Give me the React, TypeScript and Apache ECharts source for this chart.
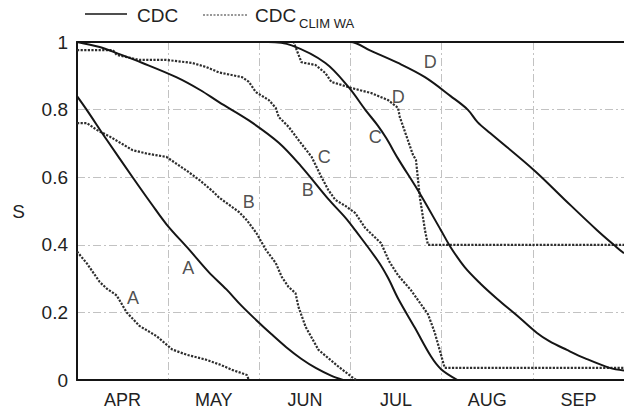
import React, { useEffect, useRef } from "react";
import * as echarts from "echarts";

const FONT = "Liberation Sans, Arial, Helvetica, sans-serif";

const MONTHS = ["APR", "MAY", "JUN", "JUL", "AUG", "SEP"];

// x = days since 1 April, y = S
const solidA: [number, number][] = [
  [0, 0.84], [3.2, 0.8], [10, 0.71], [18.6, 0.6], [25, 0.52], [30, 0.46], [37.6, 0.385],
  [44, 0.32], [50, 0.268], [55, 0.22], [60, 0.177], [65, 0.136], [70, 0.097], [75, 0.063],
  [80, 0.035], [85, 0.013], [89, 0],
];
const dottedA: [number, number][] = [
  [0, 0.38], [3.3, 0.345], [7.6, 0.29], [10, 0.27], [13.3, 0.25], [16.6, 0.2], [20.9, 0.16],
  [26.6, 0.13], [31.9, 0.09], [36.6, 0.075], [43.2, 0.06], [48, 0.045], [51.9, 0.03],
  [56.8, 0.015], [57.5, 0],
];
const solidB: [number, number][] = [
  [0, 1], [7.6, 0.985], [13.3, 0.967], [21.9, 0.938], [33.2, 0.896], [41.2, 0.858], [47.5, 0.822],
  [57.5, 0.768], [67.5, 0.702], [75, 0.632], [84.1, 0.535], [89.7, 0.481], [93, 0.444],
  [100.7, 0.352], [104, 0.303], [107.6, 0.238], [113, 0.155], [118.4, 0.07], [121.8, 0.032],
  [127.3, 0],
];
const dottedB: [number, number][] = [
  [0, 0.76], [3.3, 0.76], [6.6, 0.74], [11, 0.72], [18.6, 0.68], [23.3, 0.67], [29.9, 0.66],
  [36.6, 0.62], [40.9, 0.592], [45.2, 0.56], [47.5, 0.54], [54.2, 0.497], [56.8, 0.473],
  [60, 0.435], [63.2, 0.385], [66.5, 0.346], [68.5, 0.305], [70.8, 0.275], [73.1, 0.257],
  [74.1, 0.216], [76.5, 0.157], [80.8, 0.089], [87.4, 0.04], [92.4, 0.006], [93.4, 0],
];
const solidC: [number, number][] = [
  [0, 1], [64, 1], [71.8, 0.99], [83.1, 0.938], [90.8, 0.867], [96.4, 0.8], [100.7, 0.752],
  [103.5, 0.715], [107.4, 0.655], [114, 0.562], [121.7, 0.444], [125, 0.393], [129.7, 0.334],
  [135, 0.285], [140.6, 0.24], [147.3, 0.19], [153.9, 0.139], [158, 0.115], [163.9, 0.089],
  [170, 0.064], [178.2, 0.036], [183, 0.028],
];
const dottedC: [number, number][] = [
  [0, 0.976], [12, 0.976], [13.3, 0.962], [20.9, 0.947], [29.9, 0.947], [38.6, 0.938],
  [43.2, 0.926], [47.5, 0.91], [55.2, 0.896], [57.5, 0.882], [59.8, 0.852], [64.2, 0.828],
  [66.5, 0.805], [67.5, 0.778], [70.8, 0.749], [74.1, 0.71], [78.5, 0.66], [81.8, 0.6],
  [84.1, 0.562], [86.4, 0.533], [89.8, 0.515], [93.1, 0.494], [96.4, 0.45], [101.7, 0.405],
  [104.5, 0.35], [107.4, 0.31], [111.7, 0.266], [117.4, 0.195], [119.7, 0.14], [123, 0.036],
  [183, 0.036],
];
const solidD: [number, number][] = [
  [0, 1], [91.4, 1], [98, 0.975], [107.4, 0.938], [116.4, 0.896], [125, 0.84], [130.7, 0.8],
  [134, 0.763], [138.3, 0.73], [153, 0.62], [163, 0.535], [173.9, 0.444], [180.5, 0.393],
  [183, 0.375],
];
const dottedD: [number, number][] = [
  [0, 1], [72.5, 1], [73.1, 0.985], [75.1, 0.94], [79.8, 0.932], [83.1, 0.908], [85.1, 0.882],
  [91.8, 0.864], [98.4, 0.849], [104.1, 0.828], [107.4, 0.805], [108, 0.778], [112.4, 0.666],
  [113.4, 0.651], [114.7, 0.541], [116.4, 0.444], [117.4, 0.4], [183, 0.4],
];

const curveLabels = [
  { text: "A", day: 18.7, s: 0.243 },
  { text: "A", day: 37.2, s: 0.331 },
  { text: "B", day: 57.5, s: 0.527 },
  { text: "B", day: 77.2, s: 0.562 },
  { text: "C", day: 82.7, s: 0.66 },
  { text: "C", day: 99.8, s: 0.718 },
  { text: "D", day: 107.5, s: 0.838 },
  { text: "D", day: 118.2, s: 0.94 },
];

const solidStyle = { color: "#151515", width: 2, type: "solid" as const };
const dottedStyle = { color: "#2e2e2e", width: 2.2, type: [2.2, 1.4] as number[] };
const gridLine = { color: "#c2c2c2", width: 1, type: [8, 3, 2, 3] as number[] };

export default function App() {
  const ref = useRef<HTMLDivElement>(null);
  useEffect(() => {
    if (!ref.current) return;
    const chart = echarts.init(ref.current, undefined, { renderer: "svg" });
    const solid = (d: [number, number][]) => ({
      type: "line",
      data: d,
      xAxisIndex: 0,
      showSymbol: false,
      symbol: "none",
      smooth: 0.35,
      lineStyle: solidStyle,
      silent: true,
      z: 3,
    });
    const dotted = (d: [number, number][]) => ({
      type: "line",
      data: d,
      xAxisIndex: 0,
      showSymbol: false,
      symbol: "none",
      lineStyle: dottedStyle,
      silent: true,
      z: 2,
    });
    chart.setOption({
      animation: false,
      backgroundColor: "#ffffff",
      textStyle: { fontFamily: FONT },
      grid: { left: 77, right: -2, top: 42, bottom: 34, containLabel: false },
      xAxis: [
        {
          type: "value",
          min: 0,
          max: 183,
          interval: 30.5,
          axisLine: { show: false },
          axisTick: { show: false },
          axisLabel: { show: false },
          splitLine: { show: true, lineStyle: gridLine },
        },
        {
          type: "category",
          data: MONTHS,
          position: "bottom",
          boundaryGap: true,
          axisLine: { show: true, onZero: false, lineStyle: { color: "#151515", width: 2 } },
          axisTick: { show: false },
          axisLabel: { fontSize: 18, color: "#222", margin: 11, fontFamily: FONT },
          splitLine: { show: false },
        },
        {
          type: "value",
          position: "top",
          min: 0,
          max: 183,
          axisLine: { show: true, onZero: false, lineStyle: { color: "#151515", width: 2 } },
          axisTick: { show: false },
          axisLabel: { show: false },
          splitLine: { show: false },
        },
      ],
      yAxis: {
        type: "value",
        min: 0,
        max: 1,
        interval: 0.2,
        name: "S",
        nameLocation: "middle",
        nameGap: 52,
        nameRotate: 0,
        nameTextStyle: { fontSize: 19, color: "#222", fontFamily: FONT },
        axisLine: { show: true, lineStyle: { color: "#151515", width: 2 } },
        axisTick: { show: false },
        axisLabel: { fontSize: 19, color: "#222", margin: 9, fontFamily: FONT },
        splitLine: { show: true, lineStyle: gridLine },
      },
      series: [
        dotted(dottedA),
        dotted(dottedB),
        dotted(dottedC),
        dotted(dottedD),
        solid(solidA),
        solid(solidB),
        solid(solidC),
        solid(solidD),
        {
          type: "scatter",
          xAxisIndex: 0,
          data: curveLabels.map((l) => ({ value: [l.day, l.s], name: l.text })),
          symbolSize: 1,
          itemStyle: { color: "transparent" },
          silent: true,
          z: 5,
          label: {
            show: true,
            position: "inside",
            formatter: (p: any) => p.name,
            fontSize: 18,
            color: "#222",
            fontFamily: FONT,
          },
        },
      ],
      graphic: [
        {
          type: "line",
          shape: { x1: 85, y1: 14, x2: 127, y2: 14 },
          style: { stroke: "#151515", lineWidth: 1.6 },
        },
        {
          type: "text",
          x: 137,
          y: 15,
          style: { text: "CDC", fontSize: 19, fill: "#222", fontFamily: FONT, verticalAlign: "middle" },
        },
        {
          type: "line",
          shape: { x1: 203, y1: 15, x2: 248, y2: 15 },
          style: { stroke: "#777", lineWidth: 1.6, lineDash: [2, 1.5] },
        },
        {
          type: "text",
          x: 255,
          y: 15,
          style: { text: "CDC", fontSize: 19, fill: "#222", fontFamily: FONT, verticalAlign: "middle" },
        },
        {
          type: "text",
          x: 299,
          y: 23,
          style: { text: "CLIM WA", fontSize: 13, fill: "#222", fontFamily: FONT, verticalAlign: "middle" },
        },
      ],
    });
    return () => chart.dispose();
  }, []);
  return (
    <div
      ref={ref}
      style={{ position: "fixed", left: 0, top: 0, width: 624, height: 414, background: "#fff" }}
    />
  );
}
